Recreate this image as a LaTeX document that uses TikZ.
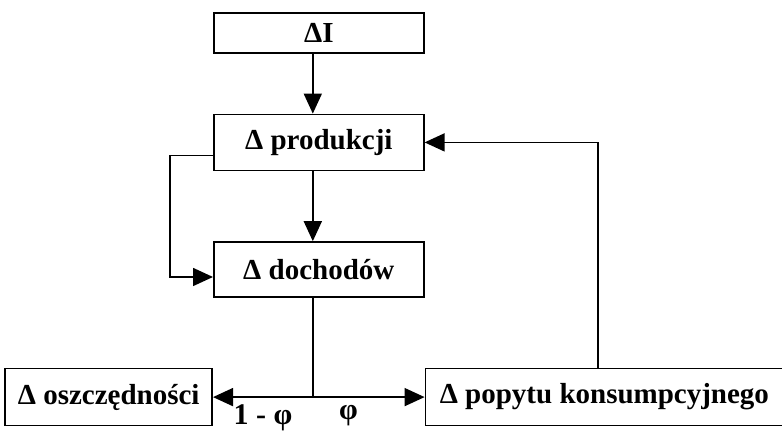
\documentclass[tikz,border=0pt]{standalone}
\usepackage{fontspec}
\setmainfont{Liberation Serif}
\usetikzlibrary{arrows.meta, positioning, calc}

\begin{document}
\begin{tikzpicture}[
    node distance=35pt,
    box/.style={draw, rectangle, align=center, line width=0.8pt,
                minimum width=105pt, minimum height=28pt, inner sep=2pt,
                font=\fontsize{14.5}{17}\selectfont\bfseries},
    arrow/.style={-{Triangle[length=10pt, width=9pt]}, line width=0.8pt},
    lbl/.style={font=\fontsize{15}{17}\selectfont\bfseries, inner sep=0.5pt}
  ]
    \useasboundingbox (0,0) rectangle (391pt,-216pt);

    \node[box, minimum height=20pt, anchor=north west] (dI) at (106.5pt,-6pt) {ΔI};
    \node[box, below=30pt of dI] (prod) {Δ produkcji};
    \node[box, minimum height=27.5pt, below=of prod] (doch) {Δ dochodów};
    \node[box, minimum width=103.5pt, minimum height=28.5pt,
          below left=35pt and 0pt of doch.south west] (oszcz) {Δ oszczędności};
    \node[box, minimum width=179pt, minimum height=28.5pt,
          below right=35pt and 0pt of doch.south east] (popyt) {Δ popytu konsumpcyjnego};

    \coordinate (spine) at ($(dI.south)+(-3pt,0)$);
    \coordinate (loop) at (85pt,0);
    \coordinate (fb) at (299pt,0);
    \coordinate (split) at (spine |- oszcz.east);

    \draw[arrow] (dI.south -| spine) -- (prod.north -| spine);
    \draw[arrow] (prod.south -| spine) -- (doch.north -| spine);
    \draw[arrow] ($(prod.west)+(0,-6.5pt)$) coordinate (loopin)
        -- (loopin -| loop) |- ($(doch.west)+(0,-3.75pt)$);
    \draw[line width=0.8pt] (doch.south -| spine) -- (split);
    \draw[arrow] (split) -- node[lbl, below=3pt] {1 - φ} (oszcz.east);
    \draw[arrow] (split) -- node[lbl, below=3pt, pos=0.32] {φ} (popyt.west);
    \draw[arrow] (popyt.north -| fb) |- (prod.east);
\end{tikzpicture}
\end{document}
